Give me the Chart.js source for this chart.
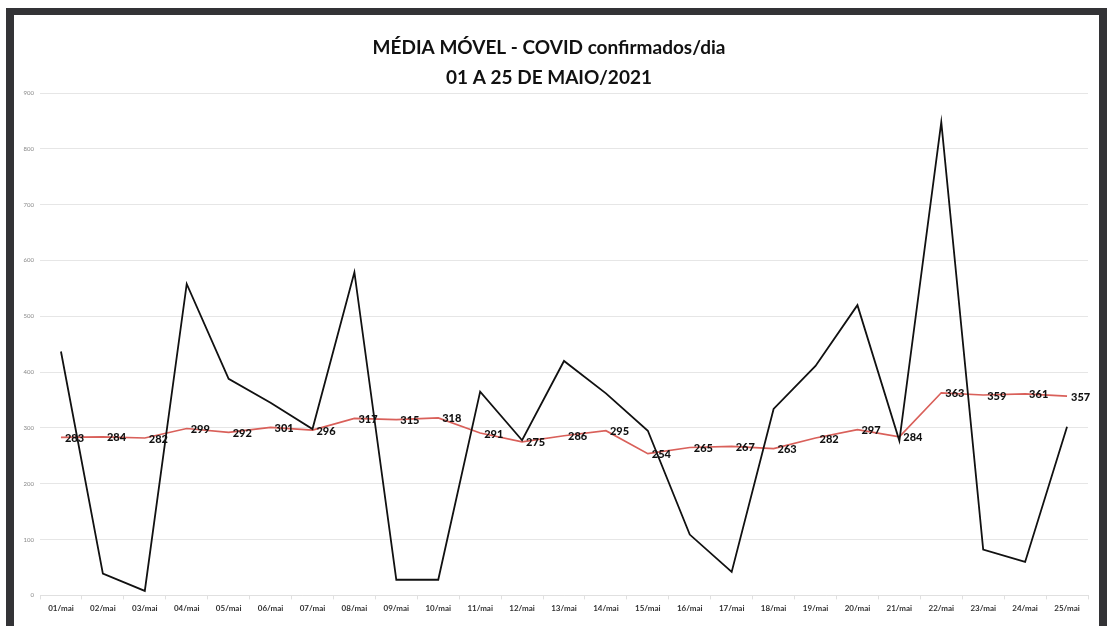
<!DOCTYPE html>
<html>
<head>
<meta charset="utf-8">
<script src="https://cdn.jsdelivr.net/npm/chart.js@4.4.1/dist/chart.umd.min.js"></script>
<style>
  html, body { margin: 0; padding: 0; background: #fff; }
  body { width: 1107px; height: 626px; position: relative; overflow: hidden; }
  #frame { position: absolute; left: 6px; top: 8px; width: 1101px; height: 618px; background: #333336; }
  #inner { position: absolute; left: 14px; top: 15px; width: 1085px; height: 611px; background: #fff; }
  #wrap { position: absolute; left: 0; top: 0; width: 1107px; height: 626px; }
</style>
</head>
<body>
<div id="frame"></div>
<div id="inner"></div>
<div id="wrap"><canvas id="c" width="1107" height="626"></canvas></div>
<script>
const categories = ["01/mai","02/mai","03/mai","04/mai","05/mai","06/mai","07/mai","08/mai","09/mai","10/mai","11/mai","12/mai","13/mai","14/mai","15/mai","16/mai","17/mai","18/mai","19/mai","20/mai","21/mai","22/mai","23/mai","24/mai","25/mai"];
const dailyCases = [437, 39, 8, 558, 388, 345, 298, 579, 28, 28, 365, 278, 420, 362, 295, 109, 42, 334, 411, 520, 277, 848, 82, 60, 302];
const movingAverage = [283, 284, 282, 299, 292, 301, 296, 317, 315, 318, 291, 275, 286, 295, 254, 265, 267, 263, 282, 297, 284, 363, 359, 361, 357];
const yTicks = [0, 100, 200, 300, 400, 500, 600, 700, 800, 900];
const titleLines = ["MÉDIA MÓVEL - COVID confirmados/dia", "01 A 25 DE MAIO/2021"];

const FONT = 'Lato, "Open Sans", sans-serif';

const labelPlugin = {
  id: 'avgLabels',
  afterDatasetsDraw(chart) {
    const meta = chart.getDatasetMeta(1);
    const ctx = chart.ctx;
    ctx.save();
    ctx.font = '900 11px ' + FONT;
    ctx.fillStyle = '#111';
    ctx.textAlign = 'left';
    ctx.textBaseline = 'middle';
    meta.data.forEach((pt, i) => {
      ctx.fillText(String(movingAverage[i]), pt.x + 4, pt.y + 1);
    });
    ctx.restore();
  }
};

new Chart(document.getElementById('c'), {
  type: 'line',
  data: {
    labels: categories,
    datasets: [
      {
        label: 'Casos confirmados',
        data: dailyCases,
        borderColor: '#111111',
        borderWidth: 1.8,
        pointRadius: 0,
        tension: 0,
        fill: false
      },
      {
        label: 'Média móvel',
        data: movingAverage,
        borderColor: '#d9605a',
        borderWidth: 1.7,
        pointRadius: 0,
        tension: 0,
        fill: false
      }
    ]
  },
  options: {
    responsive: false,
    animation: false,
    layout: { padding: { left: 10, right: 19, top: 0, bottom: 9 } },
    plugins: {
      legend: { display: false },
      tooltip: { enabled: false },
      title: {
        display: true,
        text: titleLines,
        color: '#111',
        font: { family: FONT, size: 19, weight: 'bold', lineHeight: 1.58 },
        padding: { top: 33, bottom: 0 }
      }
    },
    scales: {
      x: {
        type: 'category',
        offset: true,
        grid: { display: true, drawOnChartArea: false, drawTicks: true, offset: true, tickLength: 4, color: '#e0e0e0' },
        border: { display: true, color: '#e0e0e0', width: 1 },
        ticks: { color: '#333', font: { family: FONT, size: 8, weight: 'bold' }, padding: 4, maxRotation: 0, autoSkip: false }
      },
      y: {
        min: 0,
        max: 900,
        afterBuildTicks(scale) { scale.ticks = yTicks.map(v => ({ value: v })); },
        afterFit(scale) { scale.width = 30; },
        grid: { color: '#e6e6e6', lineWidth: 1, drawTicks: false },
        border: { display: false },
        ticks: { color: '#888', font: { family: FONT, size: 6 }, padding: 6 }
      }
    }
  },
  plugins: [labelPlugin]
});
</script>
</body>
</html>
